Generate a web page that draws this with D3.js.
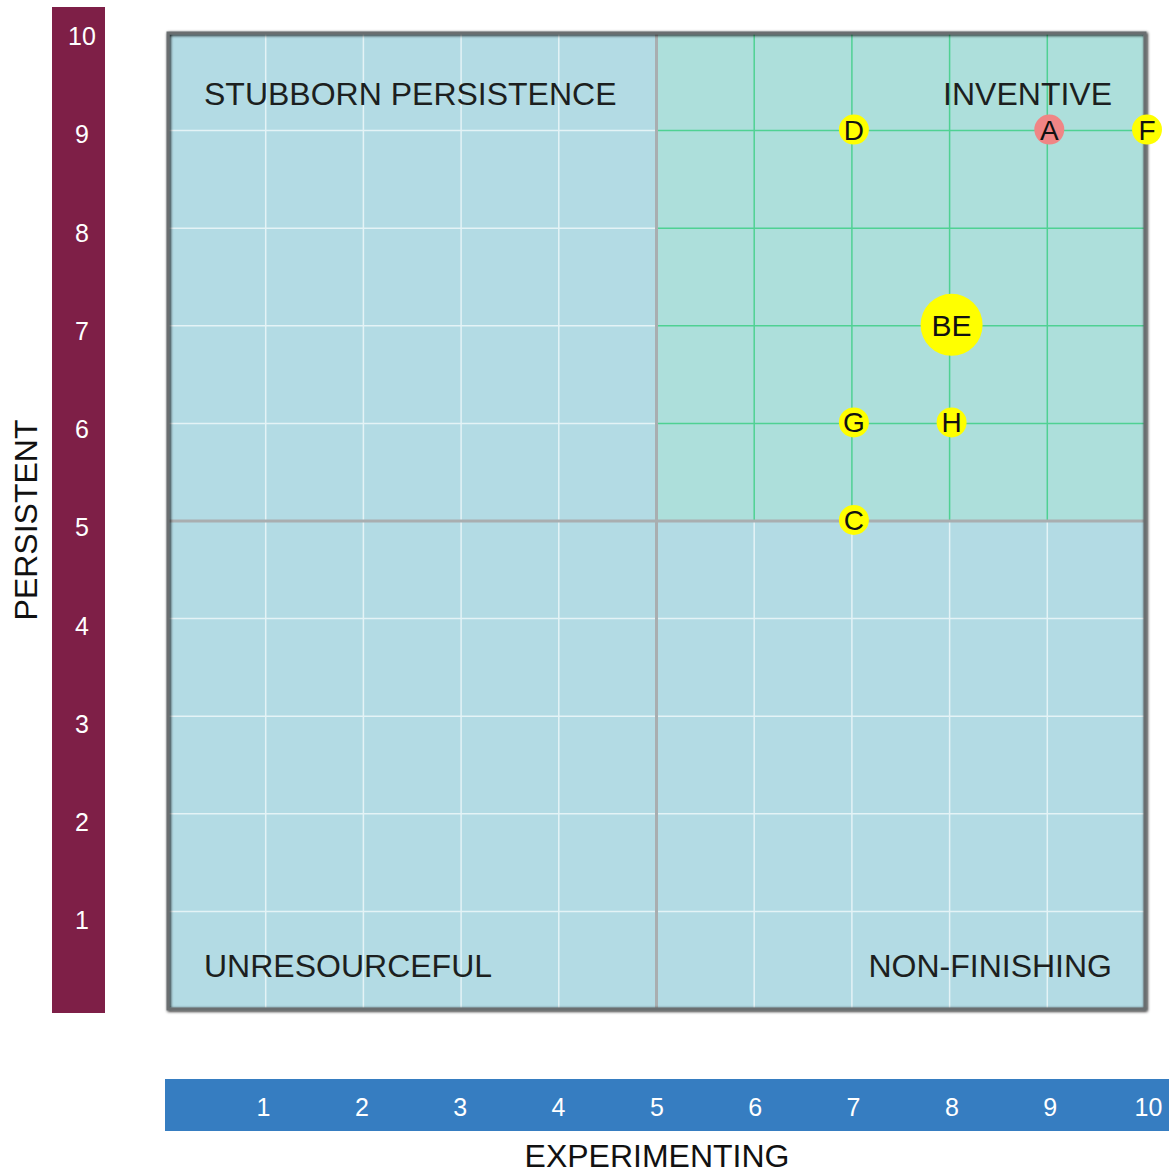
<!DOCTYPE html>
<html>
<head>
<meta charset="utf-8">
<script src="https://cdn.jsdelivr.net/npm/d3@7"></script>
<style>
  body { margin: 0; background: #fff; }
  text { font-family: "Liberation Sans", Arial, sans-serif; }
</style>
</head>
<body>
<svg id="chart" width="1169" height="1174"></svg>
<script>
const xTicks = [1, 2, 3, 4, 5, 6, 7, 8, 9, 10];
const yTicks = [1, 2, 3, 4, 5, 6, 7, 8, 9, 10];
const gridValues = [1, 2, 3, 4, 6, 7, 8, 9];

const pointLabels = ['D', 'A', 'F', 'BE', 'G', 'H', 'C'];
const pointX = [7, 9, 10, 8, 7, 8, 7];
const pointY = [9, 9, 9, 7, 6, 6, 5];
const pointKind = ['small', 'red', 'small', 'big', 'small', 'small', 'small'];

const quadrants = [
  {name: 'STUBBORN PERSISTENCE', x: 0, y: 10, anchor: 'start'},
  {name: 'INVENTIVE', x: 10, y: 10, anchor: 'end'},
  {name: 'UNRESOURCEFUL', x: 0, y: 0, anchor: 'start'},
  {name: 'NON-FINISHING', x: 10, y: 0, anchor: 'end'},
];

const svg = d3.select('#chart');

const x = d3.scaleLinear().domain([0, 10]).range([168, 1145]);
const y = d3.scaleLinear().domain([0, 10]).range([1009, 33]);

// shadow filter for the plot frame
const defs = svg.append('defs');
const f = defs.append('filter').attr('id', 'shadow').attr('x', '-5%').attr('y', '-5%').attr('width', '110%').attr('height', '110%');
f.append('feGaussianBlur').attr('in', 'SourceAlpha').attr('stdDeviation', 1.5);
f.append('feOffset').attr('dx', 1).attr('dy', 1).attr('result', 'b');
const fm = f.append('feMerge');
fm.append('feMergeNode').attr('in', 'b');
fm.append('feMergeNode').attr('in', 'SourceGraphic');

const plot = svg.append('g');

plot.append('rect')
  .attr('x', x(0)).attr('y', y(10))
  .attr('width', x(10) - x(0)).attr('height', y(0) - y(10))
  .attr('fill', '#b3dbe4');

// white grid
plot.selectAll('line.vx').data(gridValues).enter().append('line')
  .attr('x1', d => x(d)).attr('x2', d => x(d))
  .attr('y1', y(0)).attr('y2', y(10))
  .attr('stroke', '#e4f3f6').attr('stroke-width', 1.5);
plot.selectAll('line.hy').data(gridValues).enter().append('line')
  .attr('y1', d => y(d)).attr('y2', d => y(d))
  .attr('x1', x(0)).attr('x2', x(10))
  .attr('stroke', '#e4f3f6').attr('stroke-width', 1.5);

// inventive quadrant
plot.append('rect')
  .attr('x', x(5)).attr('y', y(10))
  .attr('width', x(10) - x(5)).attr('height', y(5) - y(10))
  .attr('fill', '#addfdb');
const green = gridValues.filter(d => d > 5);
plot.selectAll('line.gx').data(green).enter().append('line')
  .attr('x1', d => x(d)).attr('x2', d => x(d))
  .attr('y1', y(5)).attr('y2', y(10))
  .attr('stroke', '#4fd193').attr('stroke-width', 1.5);
plot.selectAll('line.gy').data(green).enter().append('line')
  .attr('y1', d => y(d)).attr('y2', d => y(d))
  .attr('x1', x(5)).attr('x2', x(10))
  .attr('stroke', '#4fd193').attr('stroke-width', 1.5);

// mid lines
plot.append('line')
  .attr('x1', x(5)).attr('x2', x(5)).attr('y1', y(0)).attr('y2', y(10))
  .attr('stroke', '#a9aeb0').attr('stroke-width', 3);
plot.append('line')
  .attr('x1', x(0)).attr('x2', x(10)).attr('y1', y(5)).attr('y2', y(5))
  .attr('stroke', '#a9aeb0').attr('stroke-width', 3);

// frame
plot.append('rect')
  .attr('x', x(0)).attr('y', y(10))
  .attr('width', x(10) - x(0)).attr('height', y(0) - y(10))
  .attr('fill', 'none')
  .attr('stroke', '#6a6e70').attr('stroke-width', 3)
  .attr('filter', 'url(#shadow)');

// quadrant labels
plot.selectAll('text.q').data(quadrants).enter().append('text')
  .attr('x', d => d.anchor === 'start' ? x(d.x) + 36 : x(d.x) - 33)
  .attr('y', d => d.y === 10 ? 105 : 977)
  .attr('text-anchor', d => d.anchor)
  .attr('font-size', 32)
  .attr('fill', '#1c1f20')
  .text(d => d.name);

// points
const pts = pointLabels.map((l, i) => ({label: l, x: pointX[i], y: pointY[i], kind: pointKind[i]}));
const pg = plot.selectAll('g.pt').data(pts).enter().append('g')
  .attr('transform', d => `translate(${x(d.x) + 2},${y(d.y) - 1})`);
pg.append('circle')
  .attr('r', d => d.kind === 'big' ? 31 : 15)
  .attr('fill', d => d.kind === 'red' ? '#f08585' : '#ffff00');
pg.append('text')
  .attr('text-anchor', 'middle')
  .attr('dy', '0.36em')
  .attr('font-size', d => d.kind === 'big' ? 30 : 28)
  .attr('fill', '#111')
  .text(d => d.label);

// left axis bar
svg.append('rect')
  .attr('x', 52).attr('y', 7).attr('width', 53).attr('height', 1006)
  .attr('fill', '#7e1f47');
const yBar = d3.scaleLinear().domain([1, 10]).range([920, 36]);
const yAxis = svg.append('g')
  .attr('transform', 'translate(82,0)')
  .call(d3.axisLeft(yBar).tickValues(yTicks).tickSize(0).tickFormat(d3.format('d')));
yAxis.select('.domain').remove();
yAxis.selectAll('text')
  .attr('x', 0).attr('dy', '0.35em')
  .attr('text-anchor', 'middle')
  .attr('fill', '#fff')
  .attr('font-size', 25)
  .attr('font-family', '"Liberation Sans", Arial, sans-serif');

// bottom axis bar
svg.append('rect')
  .attr('x', 165).attr('y', 1079).attr('width', 1004).attr('height', 52)
  .attr('fill', '#367dc1');
const xBar = d3.scaleLinear().domain([1, 10]).range([263, 1148]);
const xAxis = svg.append('g')
  .attr('transform', 'translate(0,1107)')
  .call(d3.axisBottom(xBar).tickValues(xTicks).tickSize(0).tickFormat(d3.format('d')));
xAxis.select('.domain').remove();
xAxis.selectAll('text')
  .attr('y', 0).attr('dy', '0.35em')
  .attr('fill', '#fff')
  .attr('font-size', 25)
  .attr('font-family', '"Liberation Sans", Arial, sans-serif');

// axis titles
svg.append('text')
  .attr('transform', 'translate(37,520) rotate(-90)')
  .attr('text-anchor', 'middle')
  .attr('font-size', 32)
  .attr('fill', '#111')
  .text('PERSISTENT');
svg.append('text')
  .attr('x', 657).attr('y', 1167)
  .attr('text-anchor', 'middle')
  .attr('font-size', 32)
  .attr('fill', '#111')
  .text('EXPERIMENTING');
</script>
</body>
</html>
